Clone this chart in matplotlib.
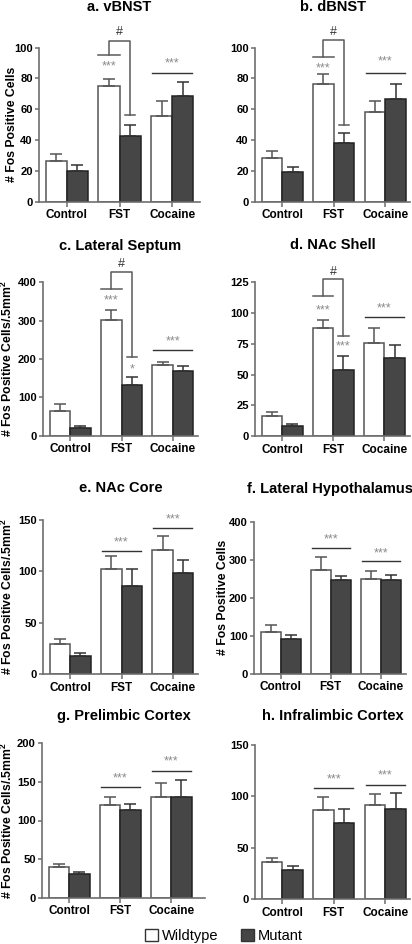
import matplotlib.pyplot as plt
from matplotlib.patches import Patch
import numpy as np

plt.rcParams['font.family'] = ['Liberation Sans', 'DejaVu Sans']

groups = ['Control', 'FST', 'Cocaine']

titles = ['a. vBNST', 'b. dBNST', 'c. Lateral Septum', 'd. NAc Shell',
          'e. NAc Core', 'f. Lateral Hypothalamus',
          'g. Prelimbic Cortex', 'h. Infralimbic Cortex']
ylabels = ['# Fos Positive Cells', '',
           '# Fos Positive Cells/.5mm$^\\mathregular{2}$', '',
           '# Fos Positive Cells/.5mm$^\\mathregular{2}$', '# Fos Positive Cells',
           '# Fos Positive Cells/.5mm$^\\mathregular{2}$', '']
ymax = [100, 100, 400, 125, 150, 400, 200, 150]
ystep = [20, 20, 100, 25, 50, 100, 50, 50]

# means and SEM, order: Control, FST, Cocaine
wt_mean = [[26.6, 75.3, 55.4], [28.4, 76.2, 58.2], [65, 301, 184], [16.5, 88.1, 75.9],
           [28.9, 102.3, 120.5], [111, 273, 249], [40.2, 119.7, 130.5], [35.7, 86.4, 91.2]]
wt_sem = [[4.1, 4.6, 9.8], [4.5, 6.7, 7.2], [18, 27, 7], [2.7, 6.5, 11.6],
          [5.2, 12.3, 14.2], [16, 34, 20], [3.8, 11.3, 17.5], [4.3, 13.0, 10.8]]
mut_mean = [[19.9, 42.4, 68.4], [19.3, 37.9, 66.7], [21, 132, 170], [8.4, 53.4, 63.1],
            [17.5, 85.7, 98.4], [92, 246, 247], [30.2, 113.6, 130.5], [28.2, 74.0, 87.3]]
mut_sem = [[4.1, 7.4, 9.6], [3.0, 6.5, 9.7], [3, 20, 11], [1.4, 11.9, 11.2],
           [3.3, 16.9, 12.6], [9, 11, 14], [2.6, 7.4, 22.5], [3.6, 13.3, 16.3]]

# FST bracket (panels a-d): wt line, top, mutant leg end, '#', '***', mutant star
brackets = {0: (95.2, 104.5, 56.3, 110, 87.6, None),
            1: (93.7, 105, 49.8, 110, 86.6, None),
            2: (382, 428, 204, 447, 352, ('*', 173)),
            3: (113.8, 127.4, 81.3, 133.6, 102, ('***', 73))}
# group lines: (group index, line y, text y)
star_lines = {0: [(2, 83.8, 89.8)], 1: [(2, 83.5, 91)], 2: [(2, 223, 247)],
              3: [(2, 96.5, 104)], 4: [(1, 120.1, 128.6), (2, 141.9, 151)],
              5: [(1, 331, 353), (2, 296, 317)], 6: [(1, 143.4, 154.6), (2, 164.6, 176)],
              7: [(1, 107.8, 116.6), (2, 111, 120)]}

# axes boxes in pixels: left, top, right, bottom ; and right xlim
boxes = [(39, 47.7, 200, 201.7), (255, 47.7, 410, 201.7),
         (43, 282.3, 198, 435.7), (255, 282.3, 410, 436),
         (43, 520, 198, 674), (254, 521.7, 406, 673.7),
         (42, 743.3, 205, 897.7), (255, 745, 410, 899)]
xr = [2.53, 2.48, 2.49, 2.5, 2.49, 2.5, 2.66, 2.48]
title_y = [7, 7, 246, 245, 488, 489, 716, 716]
ylabel_x = [18, None, 15, None, 15, 229, 15, None]

W, H = 412, 944
fig = plt.figure(figsize=(W / 100, H / 100), dpi=100)

axc = '#6e6e6e'
star_c = '#8a8a8a'
line_c = '#333333'
br_c = '#5a5a5a'
x = np.arange(3)
bw = 0.4

for i in range(8):
    l, t, r, b = boxes[i]
    ax = fig.add_axes([l / W, 1 - b / H, (r - l) / W, (b - t) / H])
    ax.bar(x - bw / 2, wt_mean[i], bw, color='white', edgecolor='#555555', linewidth=1.1, zorder=2)
    ax.bar(x + bw / 2, mut_mean[i], bw, color='#464646', edgecolor='#222222', linewidth=1.1, zorder=2)
    ax.errorbar(x - bw / 2, wt_mean[i], yerr=[np.zeros(3), wt_sem[i]], fmt='none',
                ecolor='#555555', elinewidth=1.1, capsize=4, capthick=1.1, zorder=3)
    ax.errorbar(x + bw / 2, mut_mean[i], yerr=[np.zeros(3), mut_sem[i]], fmt='none',
                ecolor='#333333', elinewidth=1.1, capsize=4, capthick=1.1, zorder=3)
    ax.set_xlim(-0.53, xr[i])
    ax.set_ylim(0, ymax[i])
    ax.set_yticks(np.arange(0, ymax[i] + 1, ystep[i]))
    ax.set_xticks(x)
    ax.set_xticklabels(groups)
    for s in ['top', 'right']:
        ax.spines[s].set_visible(False)
    for s in ['left', 'bottom']:
        ax.spines[s].set_color(axc)
        ax.spines[s].set_linewidth(1.2)
    ax.tick_params(axis='x', length=3.5, width=1.1, color=axc, labelsize=8.5, pad=2)
    ax.tick_params(axis='y', length=3, width=1.1, color=axc, labelsize=8, pad=1.5)
    for lab in ax.get_xticklabels() + ax.get_yticklabels():
        lab.set_fontweight('bold')
    if ylabels[i]:
        ax.set_ylabel(ylabels[i], fontsize=8.8, fontweight='bold')
        ax.yaxis.set_label_coords((ylabel_x[i] - l) / (r - l), 0.5)
    fig.text((l + r) / 2 / W, 1 - title_y[i] / H, titles[i], ha='center', va='center',
             fontsize=10.5, fontweight='bold')

    if i in brackets:
        y_wt, y_top, y_mut, y_hash, y_star, mstar = brackets[i]
        kw = dict(color=br_c, lw=1.1, clip_on=False, zorder=4)
        ax.plot([0.6, 1.0], [y_wt, y_wt], **kw)
        ax.plot([0.8, 0.8, 1.2, 1.2], [y_wt, y_top, y_top, y_mut], **kw)
        ax.plot([1.1, 1.3], [y_mut, y_mut], **kw)
        ax.text(1.0, y_hash, '#', ha='center', va='center', fontsize=9, color=line_c)
        ax.text(0.8, y_star, '***', ha='center', va='center', fontsize=9, color=star_c)
        if mstar:
            ax.text(1.2, mstar[1], mstar[0], ha='center', va='center', fontsize=9, color=star_c)
    for g, yl, yt in star_lines[i]:
        ax.plot([g - 0.38, g + 0.38], [yl, yl], color=line_c, lw=1.0, clip_on=False)
        ax.text(g, yt, '***', ha='center', va='center', fontsize=9, color=star_c)

handles = [Patch(facecolor='white', edgecolor='#333333', linewidth=1.0, label='Wildtype'),
           Patch(facecolor='#464646', edgecolor='#333333', linewidth=1.0, label='Mutant')]
fig.legend(handles=handles, loc='center', bbox_to_anchor=(224 / W, 1 - 936 / H), ncol=2,
           frameon=False, fontsize=10.5, handlelength=0.9, handleheight=0.9,
           handletextpad=0.3, columnspacing=1.5)

fig.savefig('out.png', dpi=100)
